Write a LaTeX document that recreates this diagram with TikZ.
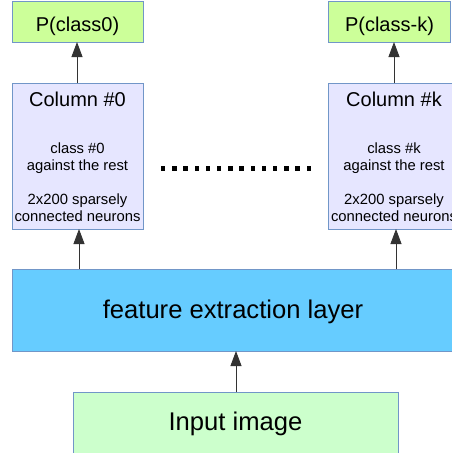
\documentclass[tikz,border=0pt]{standalone}
\usepackage{fontspec}
\setmainfont{Liberation Sans}
\usetikzlibrary{arrows.meta}
\definecolor{edge}{HTML}{7196C8}
\definecolor{probfill}{HTML}{CCFF99}
\definecolor{colfill}{HTML}{E6E6FF}
\definecolor{featfill}{HTML}{66CCFF}
\definecolor{inputfill}{HTML}{CCFFCC}
\begin{document}
\begin{tikzpicture}[x=1pt,y=-1pt,
  boxstyle/.style={draw=edge,line width=1pt,rectangle,inner sep=0pt,outer sep=0pt},
  txt/.style={inner sep=0pt,anchor=base},
  arr/.style={draw=black!80,line width=0.9pt,-{Triangle[length=15pt,width=11pt]}}]
\useasboundingbox (0,0) rectangle (452,453);
\clip (0,0) rectangle (452,453);

% output probability boxes
\node[boxstyle,fill=probfill,minimum width=131pt,minimum height=41pt] (p0) at (77.5,21.5) {};
\node[boxstyle,fill=probfill,minimum width=122pt,minimum height=41pt] (pk) at (389.5,21.5) {};
\node[txt,font=\fontsize{20}{24}\selectfont] (p0t) at (77.5,31) {P(class0)};
\node[txt,font=\fontsize{20}{24}\selectfont] (pkt) at (389.5,31) {P(class-k)};

% classifier columns
\node[boxstyle,fill=colfill,minimum width=131pt,minimum height=146pt] (c0) at (77.5,156) {};
\node[boxstyle,fill=colfill,minimum width=132pt,minimum height=146pt] (ck) at (394,156) {};
\node[txt,font=\fontsize{20}{24}\selectfont] (c0h) at (77.5,106) {Column \#0};
\node[txt,font=\fontsize{20}{24}\selectfont] (ckh) at (394,106) {Column \#k};
% the base anchor of a multi-line node sits on its last line
\node[txt,font=\fontsize{14.8}{17}\selectfont,align=center] (c0b) at (77.5,221)
  {class \#0\\against the rest\\[17pt]2x200 sparsely\\connected neurons};
\node[txt,font=\fontsize{14.8}{17}\selectfont,align=center] (ckb) at (394,221)
  {class \#k\\against the rest\\[17pt]2x200 sparsely\\connected neurons};

% ellipsis between the columns
\foreach \i in {0,...,13}
  \fill[black] ({161+11.2*\i},165.7) rectangle ++(4.4,5);

% shared feature layer and input
\node[boxstyle,fill=featfill,minimum width=442pt,minimum height=82pt] (fe) at (233,310) {};
\node[txt,font=\fontsize{25.6}{30}\selectfont] (fet) at (233,318) {feature extraction layer};
\node[boxstyle,fill=inputfill,minimum width=325pt,minimum height=62pt] (in) at (235.5,423) {};
\node[txt,font=\fontsize{25.6}{30}\selectfont] (int) at (235.5,430) {Input image};

% connector columns
\coordinate (xa) at (77,0);
\coordinate (xb) at (394,0);
\coordinate (xc) at (79,0);
\coordinate (xd) at (396,0);
\coordinate (xe) at (236,0);

\draw[arr] (c0.north -| xa) -- (p0.south -| xa);
\draw[arr] (ck.north -| xb) -- (pk.south -| xb);
\draw[arr] (fe.north -| xc) -- (c0.south -| xc);
\draw[arr] (fe.north -| xd) -- (ck.south -| xd);
\draw[arr] (in.north -| xe) -- (fe.south -| xe);
\end{tikzpicture}
\end{document}
